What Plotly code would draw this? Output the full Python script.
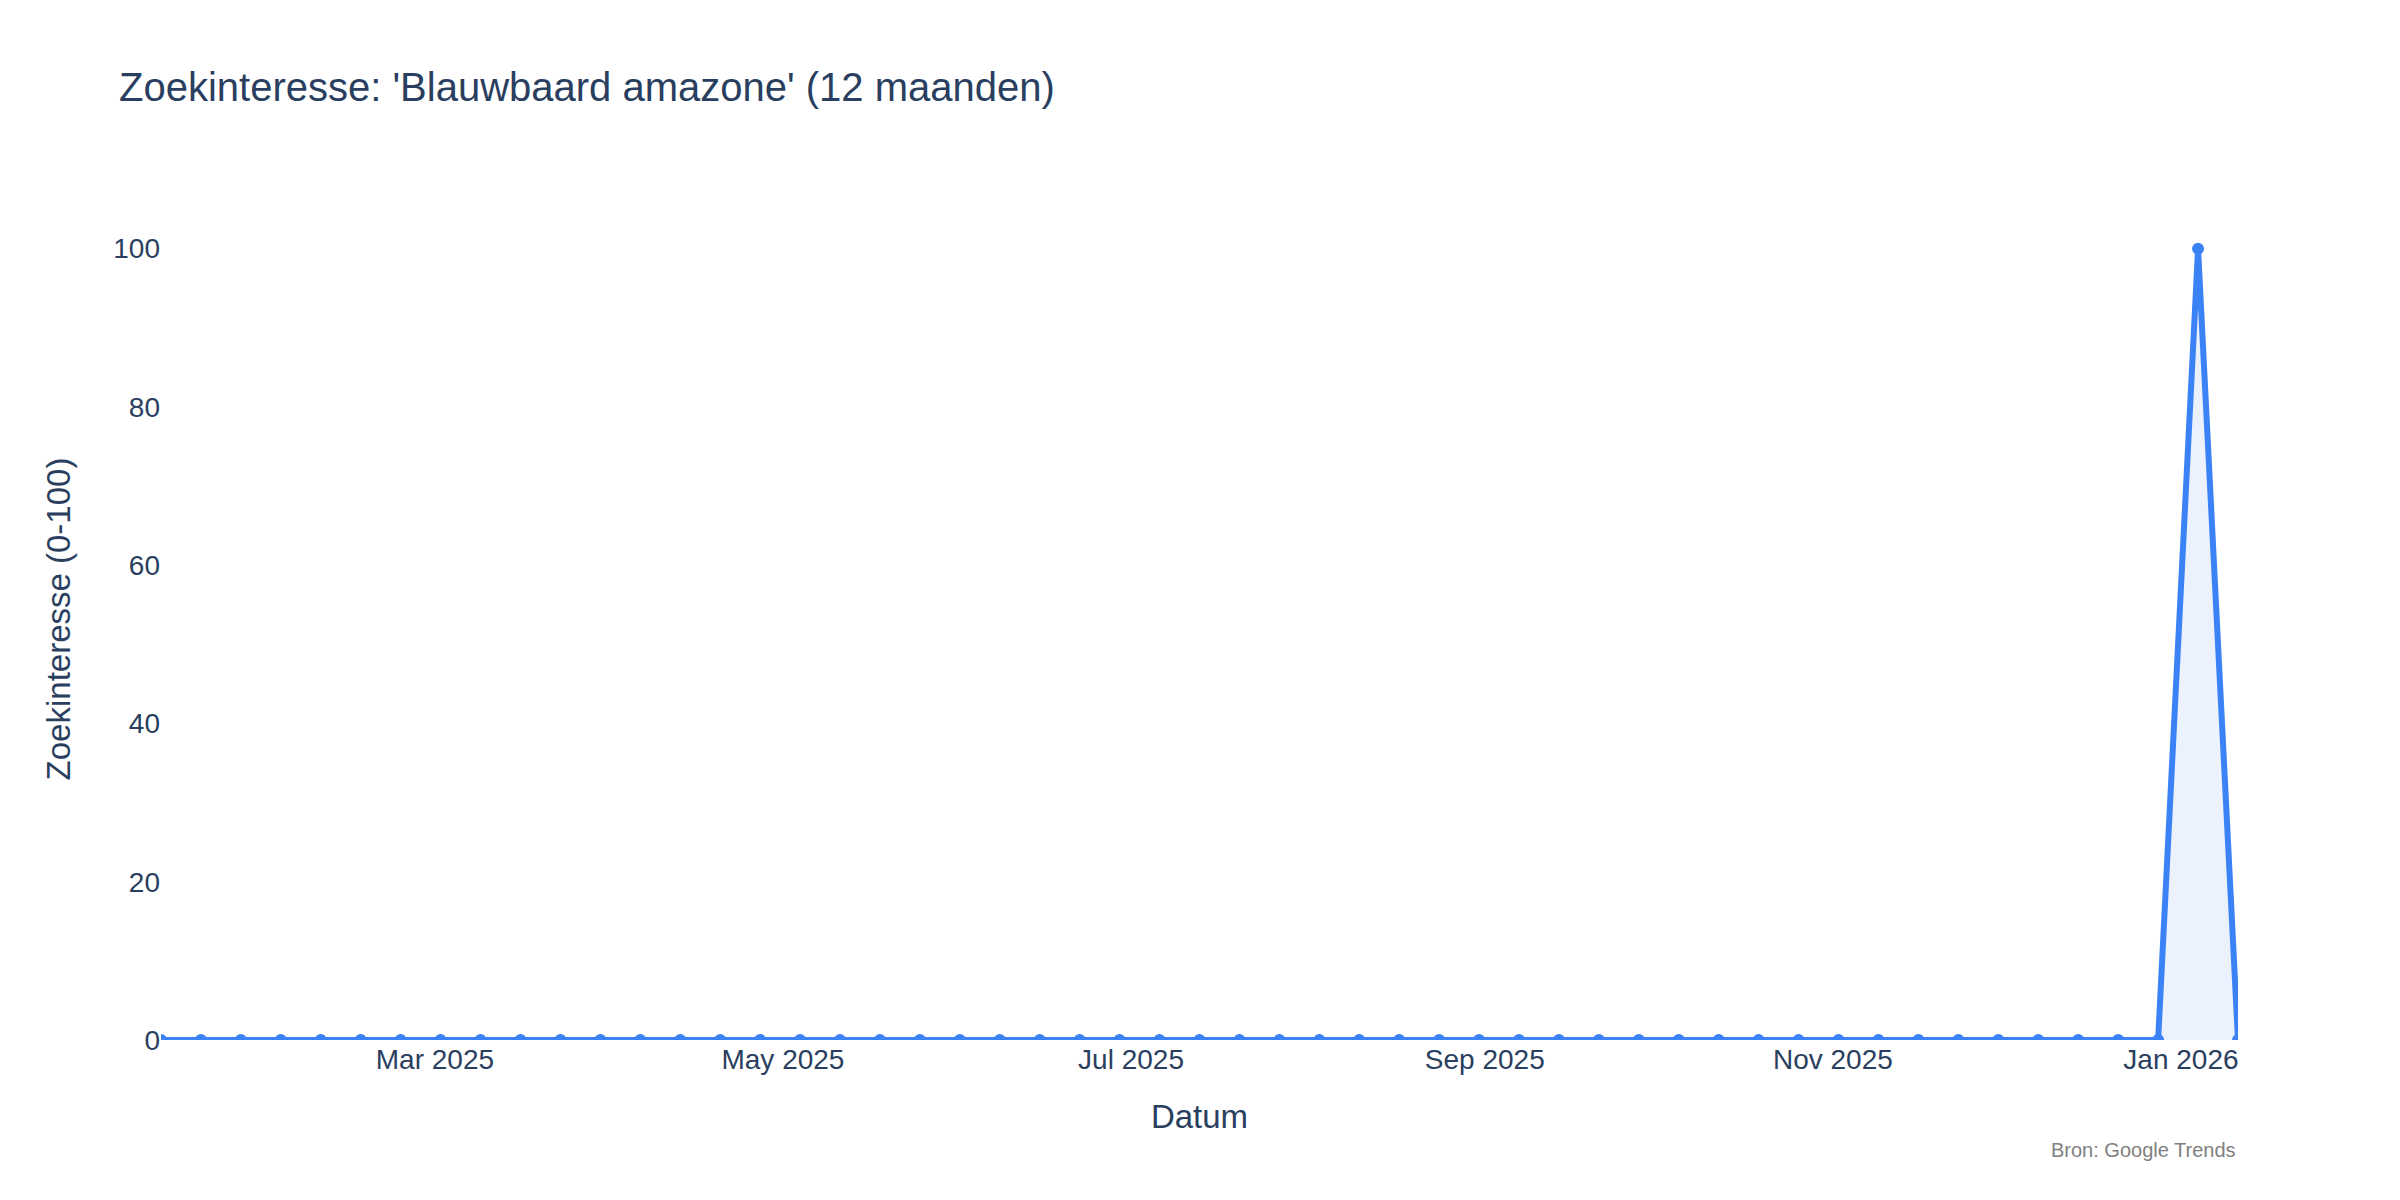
import pandas as pd
import plotly.graph_objects as go

# Weekly dates (Sundays) covering 12 months
dates = pd.date_range("2025-01-12", "2026-01-11", freq="7D")
values = [0, 0, 0, 0, 0, 0, 0, 0, 0, 0,
          0, 0, 0, 0, 0, 0, 0, 0, 0, 0,
          0, 0, 0, 0, 0, 0, 0, 0, 0, 0,
          0, 0, 0, 0, 0, 0, 0, 0, 0, 0,
          0, 0, 0, 0, 0, 0, 0, 0, 0, 0,
          0, 100, 0]

title_text = "Zoekinteresse: 'Blauwbaard amazone' (12 maanden)"
x_title = "Datum"
y_title = "Zoekinteresse (0-100)"
source_text = "Bron: Google Trends"

FONT = "Liberation Sans, Arial, sans-serif"
TEXT = "#2a3f5f"
BLUE = "#3b82f6"

fig = go.Figure()
fig.add_trace(go.Scatter(
    x=dates, y=values,
    mode="lines+markers",
    line=dict(color=BLUE, width=6),
    marker=dict(color=BLUE, size=12),
    fill="tozeroy",
    fillcolor="rgba(59,130,246,0.1)",
    name="Blauwbaard amazone",
    showlegend=False,
))

T, B = 190, 168
plot_h = 1200 - T - B

fig.update_layout(
    width=2400, height=1200,
    template="plotly_white",
    font=dict(family=FONT, color=TEXT, size=28),
    title=dict(text=title_text, x=111/2400, xanchor="left",
               y=1 - 79/1200, yanchor="middle", yref="container",
               font=dict(size=40, family=FONT, color=TEXT)),
    margin=dict(l=153, r=170, t=T, b=B, autoexpand=False),
    paper_bgcolor="white", plot_bgcolor="white",
    xaxis=dict(
        title=dict(text=x_title, font=dict(size=33), standoff=30),
        range=[dates[0], dates[-1]],
        tick0="2025-01-01", dtick="M2", tickformat="%b %Y",
        showgrid=False, zeroline=False, showline=False,
        tickfont=dict(size=28), automargin=False,
    ),
    yaxis=dict(
        title=dict(text=y_title, font=dict(size=33), standoff=32),
        range=[0, 106.4],
        tickvals=[0, 20, 40, 60, 80, 100],
        showgrid=False, zeroline=False, showline=False,
        tickfont=dict(size=28), automargin=False,
    ),
    annotations=[dict(
        text=source_text, xref="paper", yref="paper",
        x=1, y=-(1142 - (1200 - B)) / plot_h, xanchor="right", yanchor="middle",
        showarrow=False, font=dict(size=20, color="#808080", family=FONT),
    )],
)

fig.write_html("out.html")
